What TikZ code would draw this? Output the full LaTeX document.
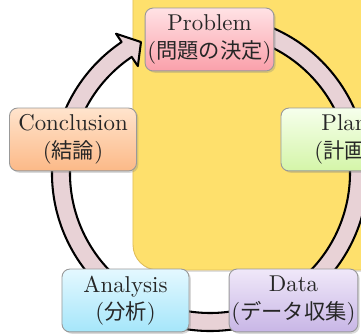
\documentclass[tikz,border=0pt]{standalone}
\usepackage{fontspec}
\newfontfamily\jpfont{Noto Sans CJK JP}[Scale=0.93]
\newcommand{\jp}[1]{{\jpfont #1}}
\usetikzlibrary{shadows}
\definecolor{bgyellow}{RGB}{254,224,108}
\definecolor{bgborder}{RGB}{225,190,90}
\definecolor{ringpink}{RGB}{232,210,214}
\definecolor{problemtop}{RGB}{255,226,229}
\definecolor{problembot}{RGB}{250,160,170}
\definecolor{plantop}{RGB}{246,255,236}
\definecolor{planbot}{RGB}{212,245,168}
\definecolor{datatop}{RGB}{240,232,249}
\definecolor{databot}{RGB}{200,182,230}
\definecolor{analysistop}{RGB}{228,248,255}
\definecolor{analysisbot}{RGB}{165,230,250}
\definecolor{conclusiontop}{RGB}{255,228,205}
\definecolor{conclusionbot}{RGB}{252,185,135}

\begin{document}
\begin{tikzpicture}[x=0.437pt, y=0.437pt,
	stage/.style={draw=black!40, rounded corners=3.5pt, minimum width=55.5pt, minimum height=27.5pt,
		align=center, inner sep=1pt, text=black!85,
		drop shadow={opacity=0.3, shadow xshift=0.8pt, shadow yshift=-0.8pt}}]
				\useasboundingbox (0,0) rectangle (361,334);
				
				% Background panel
				\fill[bgyellow, draw=bgborder, rounded corners=11pt,
					drop shadow={opacity=0.25, shadow xshift=0.8pt, shadow yshift=-0.8pt}] (133,64) rectangle (440,400);
				
				% Draw cycle arrow
				\begin{scope}[shift={(210,161)}]
					\draw[fill=ringpink, line width=0.9pt, line join=round]
						(80:158) arc[start angle=80, end angle=-236, radius=158]
						-- (-236:168) -- (-242.2:148) -- (-236:129) -- (-236:140)
						arc[start angle=-236, end angle=80, radius=140] -- cycle;
				\end{scope}
				
				% Draw stages
				\node[stage, top color=problemtop, bottom color=problembot] (problem) at (209.5,294.5) {Problem\\(\jp{問題の決定})};
				\node[stage, top color=plantop, bottom color=planbot] (plan) at (344.5,194.5) {Plan\\(\jp{計画})};
				\node[stage, top color=datatop, bottom color=databot] (data) at (293.5,33.5) {Data\\(\jp{データ収集})};
				\node[stage, top color=analysistop, bottom color=analysisbot] (analysis) at (125.5,33.5) {Analysis\\(\jp{分析})};
				\node[stage, top color=conclusiontop, bottom color=conclusionbot] (conclusion) at (73,194.5) {Conclusion\\(\jp{結論})};
			\end{tikzpicture}
\end{document}
